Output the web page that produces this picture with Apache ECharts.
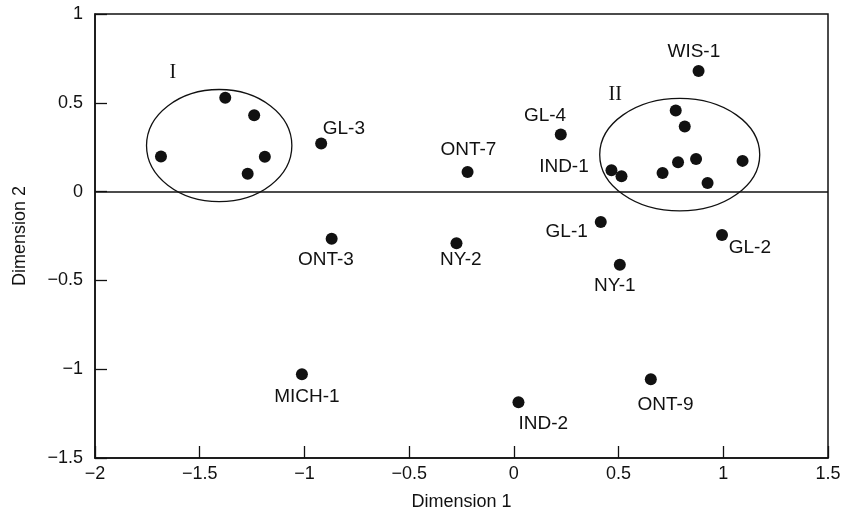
<!DOCTYPE html>
<html>
<head>
<meta charset="utf-8">
<script src="https://cdn.jsdelivr.net/npm/echarts@6/dist/echarts.min.js"></script>
<style>html,body{margin:0;padding:0;background:#fff}#c{width:856px;height:517px}</style>
</head>
<body>
<div id="c"></div>
<script>
// ---- data ----
const siteNames = ['', '', '', '', '', 'GL-3', 'ONT-7', 'GL-4', 'ONT-3', 'NY-2', 'WIS-1', '', '', 'IND-1', '', '', '', '', '', '', 'GL-1', 'GL-2', 'NY-1', 'ONT-9', 'MICH-1', 'IND-2'];
const dim1 = [-1.685, -1.378, -1.240, -1.189, -1.271, -0.920, -0.221, 0.224, -0.870, -0.274, 0.882, 0.773, 0.816, 0.466, 0.514, 0.710, 0.784, 0.870, 0.925, 1.092, 0.415, 0.994, 0.506, 0.654, -1.012, 0.022];
const dim2 = [0.197, 0.528, 0.430, 0.196, 0.100, 0.271, 0.111, 0.321, -0.265, -0.291, 0.679, 0.457, 0.367, 0.120, 0.086, 0.105, 0.165, 0.184, 0.049, 0.173, -0.171, -0.244, -0.412, -1.057, -1.028, -1.186];

const clusterNames = ['I', 'II'];
const clusterCenterX = [-1.407, 0.792];
const clusterCenterY = [0.259, 0.208];
const clusterRadiusX = [0.347, 0.382];
const clusterRadiusY = [0.316, 0.317];
const clusterLabelX = [-1.628, 0.484];
const clusterLabelY = [0.669, 0.545];

const xTicks = [-2, -1.5, -1, -0.5, 0, 0.5, 1, 1.5];
const yTicks = [-1.5, -1, -0.5, 0, 0.5, 1];

// ---- label placement (style) ----
const labelPlace = {
  'GL-3':   {position: [28.7, -9],   align: 'center'},
  'ONT-7':  {position: [6.8, -16.3], align: 'center'},
  'GL-4':   {position: [-9.7, -13],  align: 'center'},
  'IND-1':  {position: [-16.7, 2],   align: 'right'},
  'WIS-1':  {position: [1.3, -13.7], align: 'center'},
  'GL-1':   {position: [-7, 15.4],   align: 'right'},
  'GL-2':   {position: [12.7, 18.7], align: 'left'},
  'ONT-3':  {position: [0.3, 27],    align: 'center'},
  'NY-2':   {position: [10.3, 22.3], align: 'center'},
  'NY-1':   {position: [1, 27],      align: 'center'},
  'MICH-1': {position: [11, 28.4],   align: 'center'},
  'IND-2':  {position: [6, 27.7],    align: 'left'},
  'ONT-9':  {position: [20.7, 31.7], align: 'center'}
};

const fmt = v => String(v).replace('-', '\u2212');
const FONT = 'Liberation Sans, Arial, sans-serif';
const INK = '#111';

const pointData = dim1.map((x, i) => {
  const n = siteNames[i];
  const item = {name: n, value: [x, dim2[i]]};
  if (n && labelPlace[n]) {
    item.label = {
      show: true,
      position: labelPlace[n].position,
      align: labelPlace[n].align,
      verticalAlign: 'middle',
      formatter: '{b}'
    };
  }
  return item;
});

const ellipseData = clusterCenterX.map((cx, i) => [cx, clusterCenterY[i], clusterRadiusX[i], clusterRadiusY[i]]);
const clusterLabelData = clusterNames.map((n, i) => ({name: n, value: [clusterLabelX[i], clusterLabelY[i]]}));

const chart = echarts.init(document.getElementById('c'), null, {renderer: 'canvas'});
chart.setOption({
  animation: false,
  backgroundColor: '#fff',
  grid: {left: 95, right: 28, top: 14, bottom: 59, show: true, borderColor: INK, borderWidth: 1.5, backgroundColor: 'transparent'},
  xAxis: {
    type: 'value', min: xTicks[0], max: xTicks[xTicks.length - 1], interval: 0.5,
    name: 'Dimension 1', nameLocation: 'middle', nameGap: 35,
    nameTextStyle: {fontFamily: FONT, fontSize: 18, color: INK},
    axisLine: {show: true, onZero: false, lineStyle: {color: INK, width: 1.5}},
    axisTick: {show: true, inside: true, length: 12, lineStyle: {color: INK, width: 1.3}},
    axisLabel: {margin: 7, fontFamily: FONT, fontSize: 18, color: INK, formatter: fmt},
    splitLine: {show: false}
  },
  yAxis: {
    type: 'value', min: yTicks[0], max: yTicks[yTicks.length - 1], interval: 0.5,
    name: 'Dimension 2', nameLocation: 'middle', nameGap: 66,
    nameTextStyle: {fontFamily: FONT, fontSize: 18, color: INK, padding: [0, 0, 0, 0]},
    axisLine: {show: true, onZero: false, lineStyle: {color: INK, width: 1.5}},
    axisTick: {show: true, inside: true, length: 12, lineStyle: {color: INK, width: 1.3}},
    axisLabel: {margin: 12, fontFamily: FONT, fontSize: 18, color: INK, formatter: fmt},
    splitLine: {show: false}
  },
  series: [
    {
      type: 'custom',
      silent: true,
      data: ellipseData,
      renderItem: function (params, api) {
        const c = api.coord([api.value(0), api.value(1)]);
        const s = api.size([api.value(2), api.value(3)]);
        return {
          type: 'ellipse',
          shape: {cx: c[0], cy: c[1], rx: s[0], ry: s[1]},
          style: {fill: 'none', stroke: INK, lineWidth: 1.3}
        };
      },
      z: 1
    },
    {
      type: 'scatter',
      symbol: 'circle',
      symbolSize: 12,
      itemStyle: {color: INK, opacity: 1},
      label: {show: false, fontFamily: FONT, fontSize: 19, color: INK},
      emphasis: {disabled: true},
      data: pointData,
      markLine: {
        silent: true,
        symbol: 'none',
        label: {show: false},
        lineStyle: {color: INK, width: 1.5, type: 'solid', opacity: 1},
        data: [{yAxis: 0}]
      },
      z: 3
    },
    {
      type: 'scatter',
      symbolSize: 0,
      silent: true,
      itemStyle: {opacity: 1},
      data: clusterLabelData,
      label: {show: true, position: 'inside', formatter: '{b}', fontFamily: 'Liberation Serif, DejaVu Serif, serif', fontSize: 20, color: INK},
      z: 3
    }
  ]
});
</script>
</body>
</html>
